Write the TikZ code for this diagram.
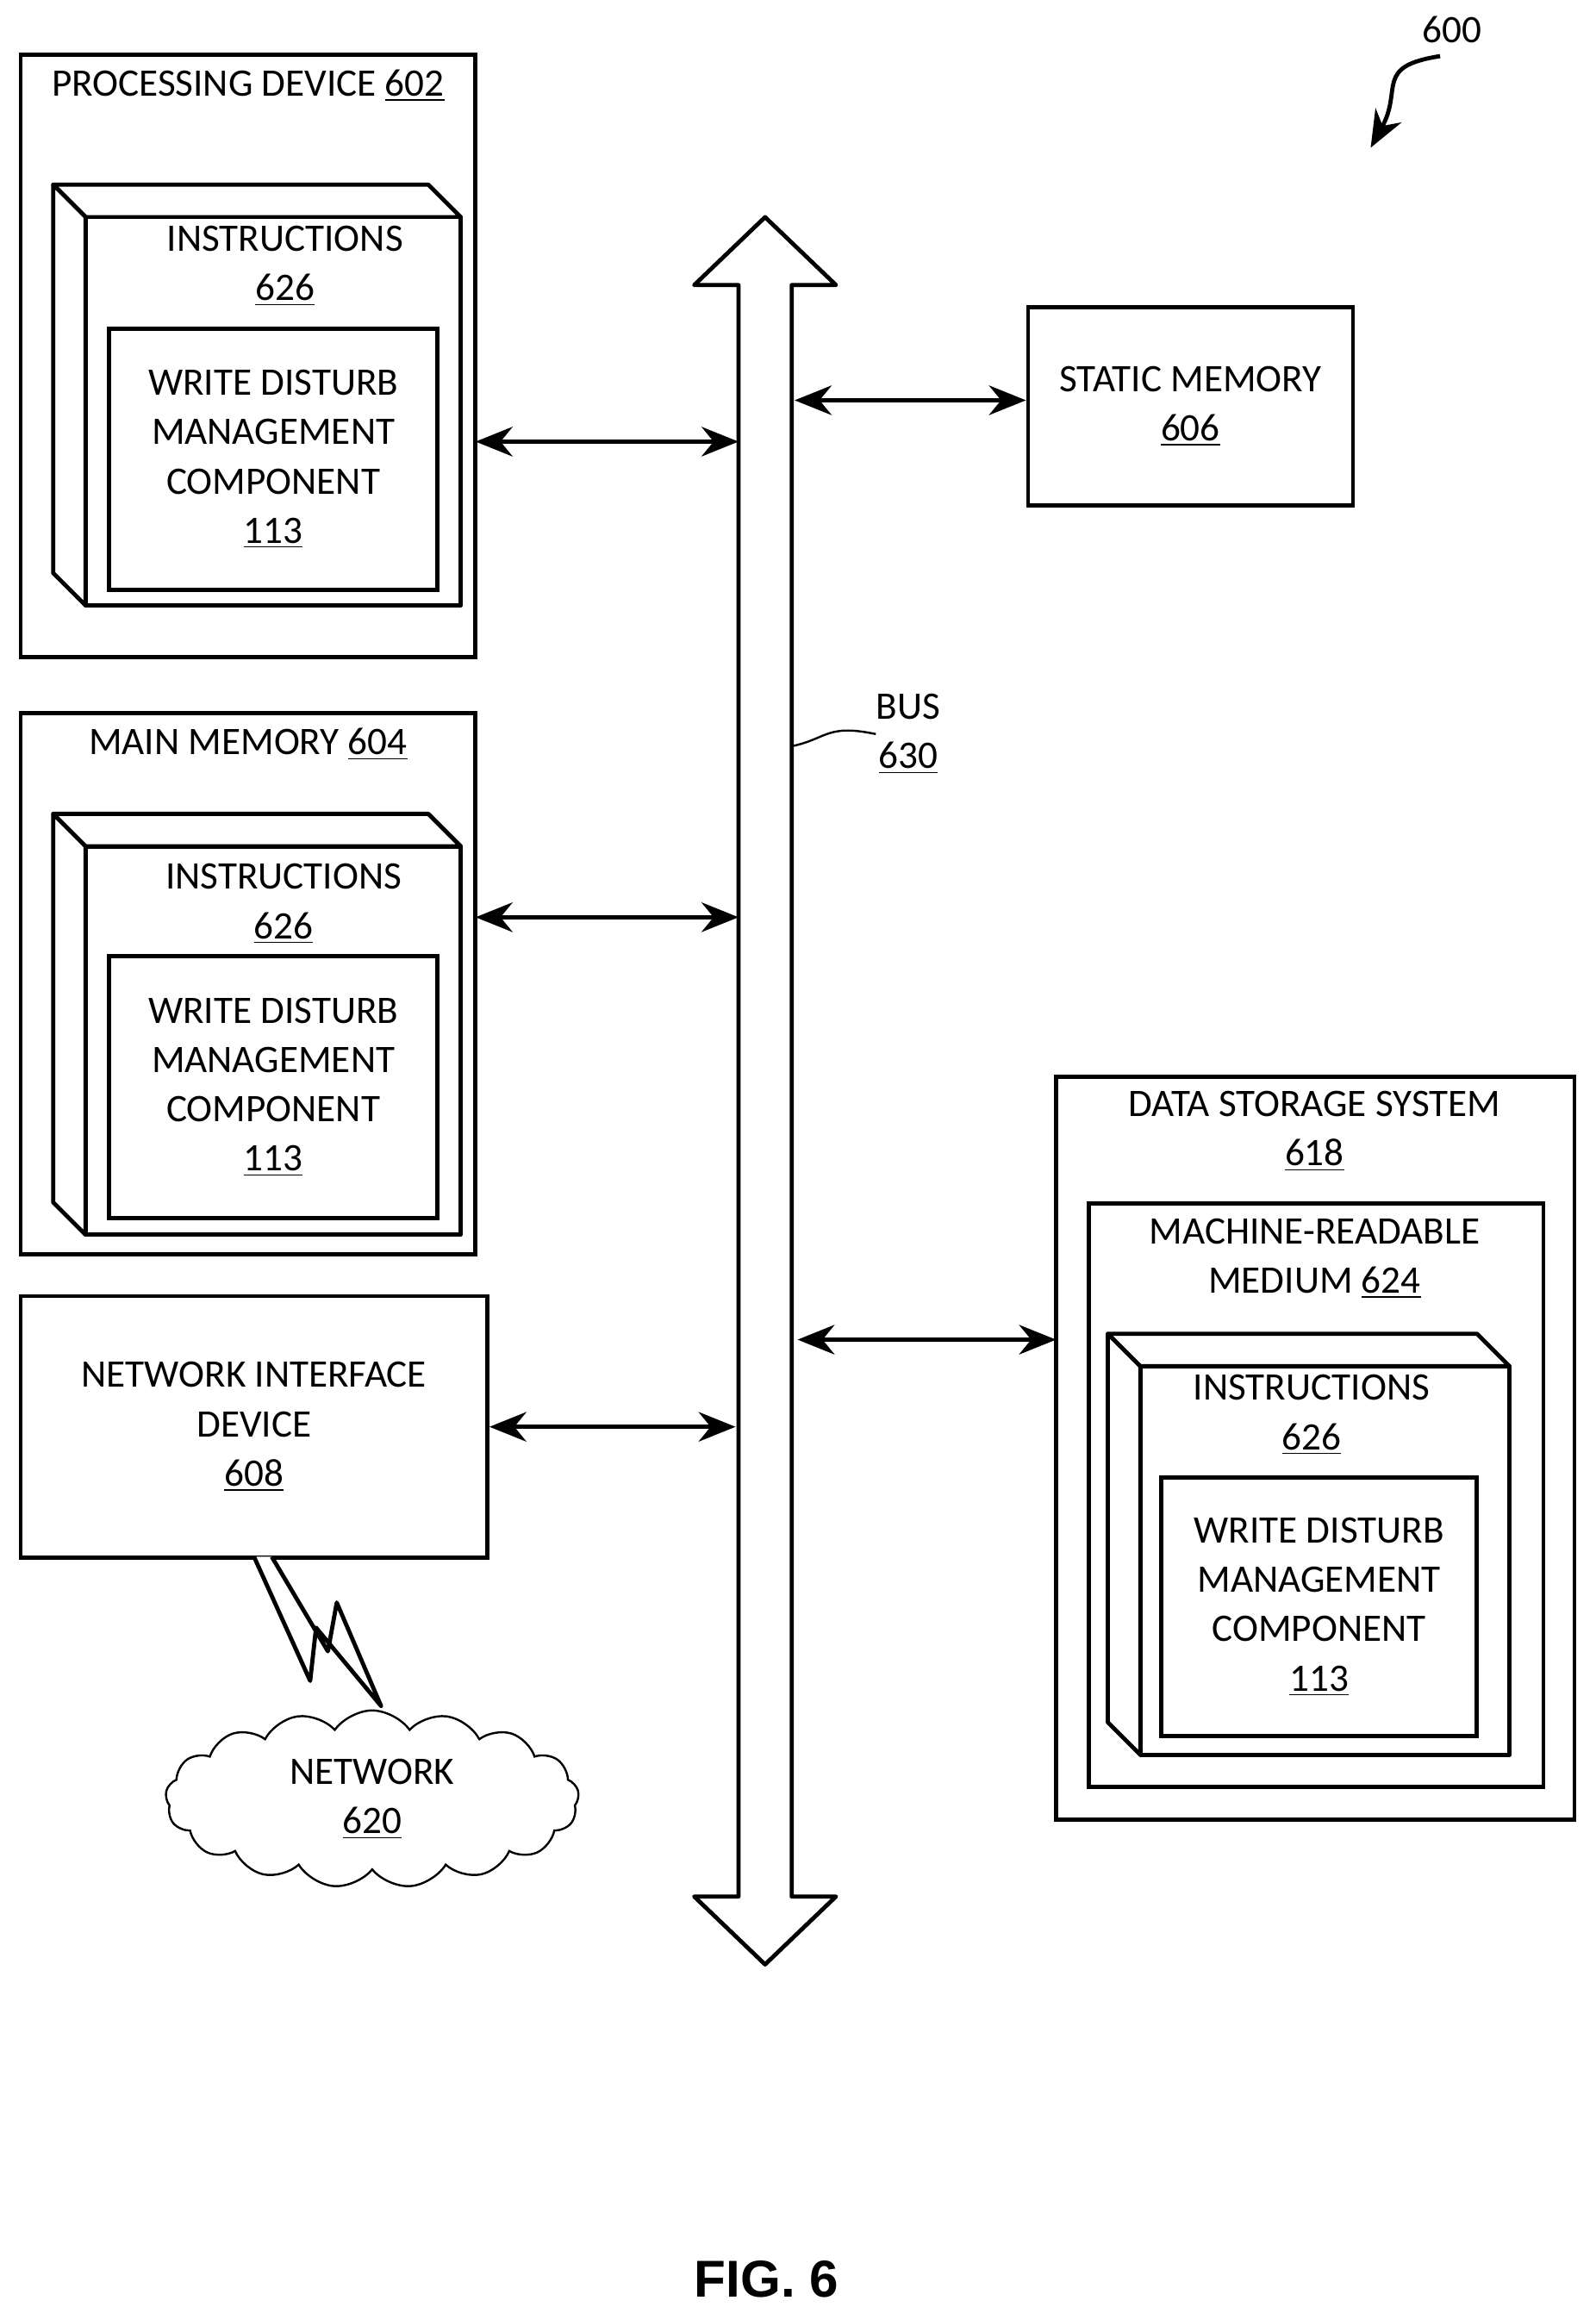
\documentclass[tikz,border=0pt]{standalone}
\usepackage{fontspec}
\setmainfont{Carlito}
\newfontfamily\figfont{Liberation Sans}
\usetikzlibrary{arrows.meta, positioning, shapes.symbols}

\begin{document}
\begin{tikzpicture}[x=0.02cm, y=-0.02cm,
        % common styles
        txt/.style={font=\fontsize{15}{19}\selectfont, align=center, inner sep=0pt},
        frame/.style={draw, line width=1.6pt},
        face/.style={draw, line width=1.6pt, fill=white, line join=round},
        line/.style={draw, line width=1.6pt, {Stealth[length=5mm,width=4mm]}-{Stealth[length=5mm,width=4mm]}},
    ]
    \useasboundingbox (0,0) rectangle (1080,1566);

    % macro-like 3D block: front box with top and left faces
    \newcommand{\slab}[4]{% x1,y1,x2,y2 of front face
        \draw[face] (#1-22,#2-22) -- (#3-22,#2-22) -- (#3,#2) -- (#1,#2) -- cycle;
        \draw[face] (#1-22,#2-22) -- (#1,#2) -- (#1,#4) -- (#1-22,#4-22) -- cycle;
        \draw[face] (#1,#2) rectangle (#3,#4);}

    % Processing device
    \draw[frame] (14,37) rectangle (322,445);
    \node (proc_dev) [txt] at (168,58) {PROCESSING DEVICE \underline{602}};
    \slab{58}{147}{312}{410}
    \node (proc_instr) [txt] at (193,180) {INSTRUCTIONS\\\underline{626}};
    \node (proc_wdm) [frame, txt, minimum width=4.44cm, minimum height=3.54cm] at (185,311) {WRITE DISTURB\\MANAGEMENT\\COMPONENT\\\underline{113}};
    \coordinate (proc_box) at (322,299);

    % Main memory
    \draw[frame] (14,483) rectangle (322,849);
    \node (main_mem) [txt] at (168,504) {MAIN MEMORY \underline{604}};
    \slab{58}{573}{312}{836}
    \node (main_instr) [txt] at (192,612) {INSTRUCTIONS\\\underline{626}};
    \node (main_wdm) [frame, txt, minimum width=4.44cm, minimum height=3.54cm] at (185,736) {WRITE DISTURB\\MANAGEMENT\\COMPONENT\\\underline{113}};
    \coordinate (main_box) at (322,621);

    % Network interface and network
    \node (net_if) [frame, txt, minimum width=6.32cm, minimum height=3.54cm] at (172,966) {NETWORK INTERFACE\\DEVICE\\\underline{608}};
    \draw[face] (172,1054) -- (210,1138) -- (214,1102) -- (258,1155) -- (228,1085) -- (222,1118) -- (184,1054);
    \node (network) [cloud, draw, thick, cloud puffs=17, cloud puff arc=110, aspect=2.4, minimum width=5.6cm, minimum height=2.4cm, txt] at (252,1218) {NETWORK\\\underline{620}};

    % Bus
    \draw[face] (500,193) -- (470,193) -- (518,147) -- (566,193) -- (536,193)
        -- (536,1284) -- (566,1284) -- (518,1330) -- (470,1284) -- (500,1284) -- cycle;
    \coordinate (bus_pd) at (500,299);
    \coordinate (bus_sm) at (538,271);
    \coordinate (bus_mm) at (500,621);
    \coordinate (bus_ni) at (498,966);
    \coordinate (bus_ds) at (540,907);
    \coordinate (bus_lbl) at (537,505);
    \node (bus) [txt] at (615,497) {BUS\\\underline{630}};
    \draw[thick] (bus_lbl) .. controls (560,500) and (560,490) .. (bus.west);

    % Static memory
    \node (static_mem) [frame, txt, minimum width=4.4cm, minimum height=2.68cm] at (806,275) {STATIC MEMORY\\\underline{606}};

    % Data storage system
    \draw[frame] (715,729) rectangle (1066,1232);
    \node (data_store) [txt] at (890,766) {DATA STORAGE SYSTEM\\\underline{618}};
    \draw[frame] (737,815) rectangle (1045,1210);
    \node (mrm) [txt] at (890,852) {MACHINE-READABLE\\MEDIUM \underline{624}};
    \slab{772}{925}{1022}{1188}
    \node (ds_instr) [txt] at (888,958) {INSTRUCTIONS\\\underline{626}};
    \node (ds_wdm) [frame, txt, minimum width=4.28cm, minimum height=3.5cm] at (893,1088) {WRITE DISTURB\\MANAGEMENT\\COMPONENT\\\underline{113}};
    \coordinate (ds_box) at (715,907);

    % Connections
    \draw[line] (proc_box) -- (bus_pd);
    \draw[line] (bus_sm) -- (static_mem.west |- bus_sm);
    \draw[line] (main_box) -- (bus_mm);
    \draw[line] (net_if.east |- bus_ni) -- (bus_ni);
    \draw[line] (bus_ds) -- (ds_box);

    % Figure reference
    \node (ref) [txt] at (983,20) {600};
    \coordinate (ref_end) at (928,100);
    \draw[line width=1.6pt, -{Stealth[length=5mm,width=4mm]}] (975,38) .. controls (930,45) and (950,60) .. (ref_end);
    \node (fig) [font=\figfont\bfseries\fontsize{20}{24}\selectfont] at (519,1543) {FIG. 6};
\end{tikzpicture}
\end{document}
